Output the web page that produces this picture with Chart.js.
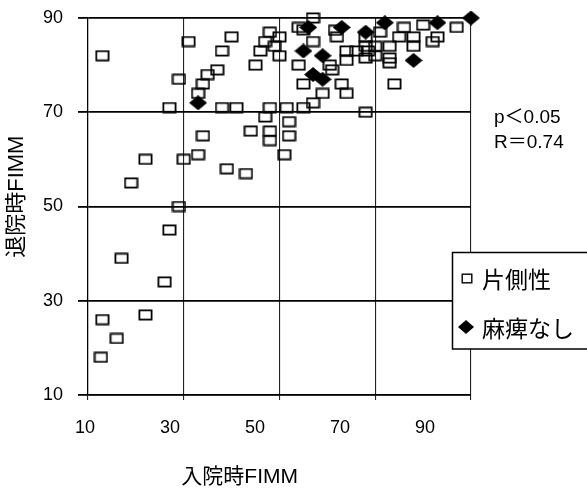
<!DOCTYPE html>
<html>
<head>
<meta charset="utf-8">
<script src="https://cdn.jsdelivr.net/npm/chart.js@4"></script>
<style>
html,body{margin:0;padding:0;background:#fff;}
canvas{display:block;}
</style>
</head>
<body>
<canvas id="c" width="587" height="490"></canvas>
<script>
// ---- data ----
const xTicks = [10, 30, 50, 70, 90];
const yTicks = [10, 30, 50, 70, 90];
const seriesNames = ['片側性', '麻痺なし'];
const xTitle = '入院時FIMM';
const yTitle = '退院時FIMM';
const statLines = ['p＜0.05', 'R＝0.74'];

const sqX = [12.7,16,13,22,26,17,27,29,19,22,30,33,39,43,34,44,48,48,52,51,47,52,13,
  27,38,41,48,51.5,55,57,68,
  29,31,33,34,35,37,38,40,45,46,47,48,49,50,50,54,54,55,57,57,60.5,61,62,63,64,59,64,64,66,
  68,68,68.5,68,70,70,71,73,73,73,74,75,76,78,78,80,82,83,87,55,61.6];
const sqY = [18,22,26,27,34,39,45,50,55,60,60,61,58,57,65,66,66,64,65,61,69,68,82,
  71,71,71,71,71,71,72,70,
  77,85,74,76,78,79,83,86,80,83,85,87,84,86,82,88,80,76,90,85,80,79,86,76,74,74,81,83,83,
  86,84,83,81.5,84,82,87,84,81.5,80.5,76,86,88,86,84,88.5,85,86,88,87.5,87.4];
const dmX = [33,56,63,68,72,55,59,57,59,78,83,90];
const dmY = [72,88,88,87,89,83,82,78,77,81,89,90];

const toPts = (xs, ys) => xs.map((x, i) => ({x: x, y: ys[i]}));

// ---- marker images ----
function rectMarker(w, h, lw) {
  const c = document.createElement('canvas');
  c.width = w; c.height = h;
  const g = c.getContext('2d');
  g.strokeStyle = '#000'; g.lineWidth = lw;
  g.strokeRect(lw/2 + 0.5, lw/2 + 0.5, w - lw - 1, h - lw - 1);
  return c;
}
function diamondMarker(w, h) {
  const c = document.createElement('canvas');
  c.width = w; c.height = h;
  const g = c.getContext('2d');
  g.fillStyle = '#000';
  g.beginPath();
  g.moveTo(w/2, 0); g.lineTo(w, h/2); g.lineTo(w/2, h); g.lineTo(0, h/2);
  g.closePath(); g.fill();
  return c;
}
const sqImg = rectMarker(15, 12, 1.8);
const dmImg = diamondMarker(18, 15);
const sqLeg = rectMarker(12, 11, 1.4);
const dmLeg = diamondMarker(16, 14);

const CJK = '"Liberation Sans", Arial, "Noto Sans CJK JP", sans-serif';

const decor = {
  id: 'decor',
  afterDraw(chart) {
    const ctx = chart.ctx;
    const xs = chart.scales.x;
    ctx.save();
    ctx.fillStyle = '#000';
    // x tick labels
    ctx.font = '18px ' + CJK;
    ctx.textAlign = 'center';
    ctx.textBaseline = 'middle';
    xTicks.forEach(v => {
      const p = xs.getPixelForValue(v);
      const lx = xs.left + (p - xs.left) * 0.888 - 3;
      ctx.fillText(String(v), lx, 428);
    });
    // x title
    ctx.font = '21px ' + CJK;
    ctx.fillText(xTitle, xs.left + (xs.right - xs.left) * 0.396, 477);
    // y title
    const ys = chart.scales.y;
    ctx.save();
    ctx.translate(17, ys.top + (ys.bottom - ys.top) * 0.474);
    ctx.rotate(-Math.PI / 2);
    ctx.font = '22px ' + CJK;
    ctx.fillText(yTitle, 0, 0);
    ctx.restore();
    // stats
    ctx.font = '19px ' + CJK;
    ctx.textAlign = 'left';
    ctx.fillText(statLines[0], 494, 118);
    ctx.fillText(statLines[1], 494, 143);
    // legend box
    ctx.fillStyle = '#fff';
    ctx.fillRect(452, 252, 140, 97);
    ctx.strokeStyle = '#000';
    ctx.lineWidth = 1.5;
    ctx.strokeRect(452.5, 252.5, 140, 96.5);
    ctx.drawImage(sqLeg, 467 - 6, 278 - 5);
    ctx.drawImage(dmLeg, 466 - 8, 327 - 7);
    ctx.fillStyle = '#000';
    ctx.font = '23px "Noto Sans CJK JP", sans-serif';
    ctx.fillText(seriesNames[0], 482, 279);
    ctx.fillText(seriesNames[1], 482, 328);
    ctx.restore();
  }
};

new Chart(document.getElementById('c'), {
  type: 'scatter',
  data: {
    datasets: [
      { label: seriesNames[1], data: toPts(dmX, dmY), pointStyle: dmImg, order: 0, clip: false },
      { label: seriesNames[0], data: toPts(sqX, sqY), pointStyle: sqImg, order: 1, clip: false }
    ]
  },
  options: {
    responsive: false,
    animation: false,
    devicePixelRatio: 1,
    layout: { autoPadding: false, padding: { top: 18, right: 116, left: 0, bottom: 0 } },
    plugins: { legend: { display: false }, tooltip: { enabled: false } },
    scales: {
      x: {
        type: 'linear', min: 10, max: 90,
        afterBuildTicks: s => { s.ticks = xTicks.map(v => ({value: v})); },
        afterFit: s => { s.height = 95; s.paddingLeft = 0; s.paddingRight = 0; },
        ticks: { display: false },
        grid: { color: '#222', lineWidth: 1.1, tickLength: 5, drawTicks: true },
        border: { display: true, color: '#000', width: 1.2 }
      },
      y: {
        type: 'linear', min: 10, max: 90,
        afterBuildTicks: s => { s.ticks = yTicks.map(v => ({value: v})); },
        afterFit: s => { s.width = 88; s.paddingTop = 0; s.paddingBottom = 0; },
        ticks: { color: '#000', padding: 15, font: { size: 18, family: '"Liberation Sans", Arial, sans-serif' } },
        grid: { color: '#000', lineWidth: 1.8, tickLength: 10 },
        border: { display: true, color: '#000', width: 1.2 }
      }
    }
  },
  plugins: [decor]
});
</script>
</body>
</html>
